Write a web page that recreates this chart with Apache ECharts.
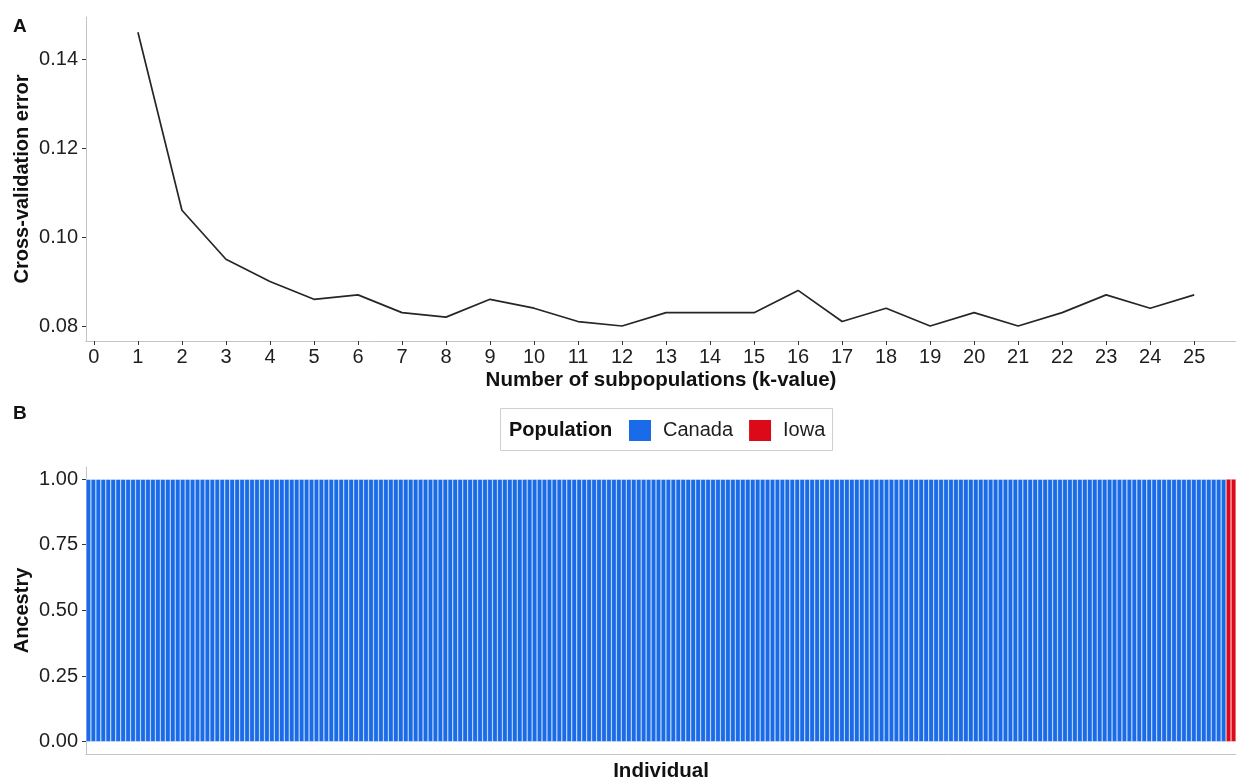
<!DOCTYPE html>
<html><head><meta charset="utf-8">
<script src="https://cdn.jsdelivr.net/npm/echarts@6/dist/echarts.min.js"></script>
<style>html,body{margin:0;padding:0;background:#fff}#c{width:1236px;height:780px}</style>
</head><body><div id="c"></div>
<script>
// Panel A: cross-validation error by k
const kValues = [1,2,3,4,5,6,7,8,9,10,11,12,13,14,15,16,17,18,19,20,21,22,23,24,25];
const cvError = [0.146,0.106,0.095,0.090,0.086,0.087,0.083,0.082,0.086,0.084,0.081,0.080,0.083,0.083,0.083,0.088,0.081,0.084,0.080,0.083,0.080,0.083,0.087,0.084,0.087];
const kTicks = [0,1,2,3,4,5,6,7,8,9,10,11,12,13,14,15,16,17,18,19,20,21,22,23,24,25];
const cvTicks = [0.08,0.10,0.12,0.14];

// Panel B: ancestry proportions per individual (230 Canada, 2 Iowa)
const populations = ['Canada','Iowa'];
const canadaAncestry = [
1,1,1,1,1,1,1,1,1,1, 1,1,1,1,1,1,1,1,1,1, 1,1,1,1,1,1,1,1,1,1, 1,1,1,1,1,1,1,1,1,1,
1,1,1,1,1,1,1,1,1,1, 1,1,1,1,1,1,1,1,1,1, 1,1,1,1,1,1,1,1,1,1, 1,1,1,1,1,1,1,1,1,1,
1,1,1,1,1,1,1,1,1,1, 1,1,1,1,1,1,1,1,1,1, 1,1,1,1,1,1,1,1,1,1, 1,1,1,1,1,1,1,1,1,1,
1,1,1,1,1,1,1,1,1,1, 1,1,1,1,1,1,1,1,1,1, 1,1,1,1,1,1,1,1,1,1, 1,1,1,1,1,1,1,1,1,1,
1,1,1,1,1,1,1,1,1,1, 1,1,1,1,1,1,1,1,1,1, 1,1,1,1,1,1,1,1,1,1, 1,1,1,1,1,1,1,1,1,1,
1,1,1,1,1,1,1,1,1,1, 1,1,1,1,1,1,1,1,1,1, 1,1,1,1,1,1,1,1,1,1,
0,0];
const iowaAncestry = [
0,0,0,0,0,0,0,0,0,0, 0,0,0,0,0,0,0,0,0,0, 0,0,0,0,0,0,0,0,0,0, 0,0,0,0,0,0,0,0,0,0,
0,0,0,0,0,0,0,0,0,0, 0,0,0,0,0,0,0,0,0,0, 0,0,0,0,0,0,0,0,0,0, 0,0,0,0,0,0,0,0,0,0,
0,0,0,0,0,0,0,0,0,0, 0,0,0,0,0,0,0,0,0,0, 0,0,0,0,0,0,0,0,0,0, 0,0,0,0,0,0,0,0,0,0,
0,0,0,0,0,0,0,0,0,0, 0,0,0,0,0,0,0,0,0,0, 0,0,0,0,0,0,0,0,0,0, 0,0,0,0,0,0,0,0,0,0,
0,0,0,0,0,0,0,0,0,0, 0,0,0,0,0,0,0,0,0,0, 0,0,0,0,0,0,0,0,0,0, 0,0,0,0,0,0,0,0,0,0,
0,0,0,0,0,0,0,0,0,0, 0,0,0,0,0,0,0,0,0,0, 0,0,0,0,0,0,0,0,0,0,
1,1];
const ancestryTicks = [0,0.25,0.5,0.75,1];

const individuals = canadaAncestry.map((_, i) => 'Ind' + (i + 1));
const cvPoints = kValues.map((k, i) => [k, cvError[i]]);

const FF = '"Liberation Sans", Arial, Helvetica, sans-serif';
const BLUE = '#1a6be8';
const RED = '#dc0a18';
const AXIS_GREY = '#c4c4c4';
const TXT = '#1e1e1e';

const chart = echarts.init(document.getElementById('c'), null, {renderer: 'canvas'});
chart.setOption({
  animation: false,
  backgroundColor: '#ffffff',
  textStyle: {fontFamily: FF},
  grid: [
    {left: 86, right: 0, top: 17, height: 324, outerBoundsMode: 'none', containLabel: false},
    {left: 86, right: 0, top: 467, height: 287, outerBoundsMode: 'none', containLabel: false}
  ],
  legend: {
    data: populations,
    left: 627, top: 418,
    itemWidth: 24, itemHeight: 23, itemGap: 14,
    icon: 'rect',
    padding: 0,
    textStyle: {fontSize: 20, color: TXT, fontFamily: FF, padding: [0, 0, 0, 6]}
  },
  graphic: [
    {type: 'rect', shape: {x: 500.5, y: 408.5, width: 332, height: 42}, style: {fill: 'none', stroke: '#cfcfcf', lineWidth: 1}, silent: true},
    {type: 'text', x: 509, y: 430, style: {text: 'Population', fontSize: 20, fontWeight: 'bold', fontFamily: FF, fill: '#111', verticalAlign: 'middle'}, silent: true},
    {type: 'text', x: 13, y: 27, style: {text: 'A', fontSize: 19, fontWeight: 'bold', fontFamily: FF, fill: '#111', verticalAlign: 'middle'}, silent: true},
    {type: 'text', x: 13, y: 414, style: {text: 'B', fontSize: 19, fontWeight: 'bold', fontFamily: FF, fill: '#111', verticalAlign: 'middle'}, silent: true}
  ],
  xAxis: [
    {
      gridIndex: 0, type: 'value', min: -0.18, max: 25.95,
      axisLine: {show: true, onZero: false, lineStyle: {color: AXIS_GREY, width: 1}},
      axisTick: {show: true, length: 4, lineStyle: {color: '#333'}, customValues: kTicks},
      axisLabel: {customValues: kTicks, margin: 6, fontSize: 20, color: TXT, fontFamily: FF},
      splitLine: {show: false},
      name: 'Number of subpopulations (k-value)', nameLocation: 'middle', nameGap: 29, nameMoveOverlap: false,
      nameTextStyle: {fontWeight: 'bold', fontSize: 20.5, color: '#111', fontFamily: FF}
    },
    {
      gridIndex: 1, type: 'category', data: individuals,
      axisLine: {show: true, onZero: false, lineStyle: {color: AXIS_GREY, width: 1}},
      axisTick: {show: false}, axisLabel: {show: false}, splitLine: {show: false},
      name: 'Individual', nameLocation: 'middle', nameGap: 7, nameMoveOverlap: false,
      nameTextStyle: {fontWeight: 'bold', fontSize: 20.5, color: '#111', fontFamily: FF}
    }
  ],
  yAxis: [
    {
      gridIndex: 0, type: 'value', min: 0.07663, max: 0.14944,
      axisLine: {show: true, onZero: false, lineStyle: {color: AXIS_GREY, width: 1}},
      axisTick: {show: true, length: 4, lineStyle: {color: '#333'}, customValues: cvTicks},
      axisLabel: {customValues: cvTicks, margin: 8, fontSize: 20, color: TXT, fontFamily: FF, formatter: v => v.toFixed(2)},
      splitLine: {show: false},
      name: 'Cross-validation error', nameLocation: 'middle', nameGap: 54, nameMoveOverlap: false,
      nameTextStyle: {fontWeight: 'bold', fontSize: 20, color: '#111', fontFamily: FF}
    },
    {
      gridIndex: 1, type: 'value', min: -0.047, max: 1.046,
      axisLine: {show: true, onZero: false, lineStyle: {color: AXIS_GREY, width: 1}},
      axisTick: {show: true, length: 4, lineStyle: {color: '#333'}, customValues: ancestryTicks},
      axisLabel: {customValues: ancestryTicks, margin: 8, fontSize: 20, color: TXT, fontFamily: FF, formatter: v => v.toFixed(2)},
      splitLine: {show: false},
      name: 'Ancestry', nameLocation: 'middle', nameGap: 54, nameMoveOverlap: false,
      nameTextStyle: {fontWeight: 'bold', fontSize: 20, color: '#111', fontFamily: FF}
    }
  ],
  series: [
    {
      type: 'line', xAxisIndex: 0, yAxisIndex: 0, data: cvPoints,
      symbol: 'none', showSymbol: false, silent: true,
      lineStyle: {color: '#262626', width: 1.7}
    },
    {
      name: populations[0], type: 'bar', xAxisIndex: 1, yAxisIndex: 1, stack: 'q',
      data: canadaAncestry, barCategoryGap: '0%', silent: true,
      itemStyle: {color: BLUE, borderColor: '#ffffff', borderWidth: 0.4}
    },
    {
      name: populations[1], type: 'bar', xAxisIndex: 1, yAxisIndex: 1, stack: 'q',
      data: iowaAncestry, barCategoryGap: '0%', silent: true,
      itemStyle: {color: RED, borderColor: '#ffffff', borderWidth: 0.4}
    }
  ]
});
</script></body></html>
